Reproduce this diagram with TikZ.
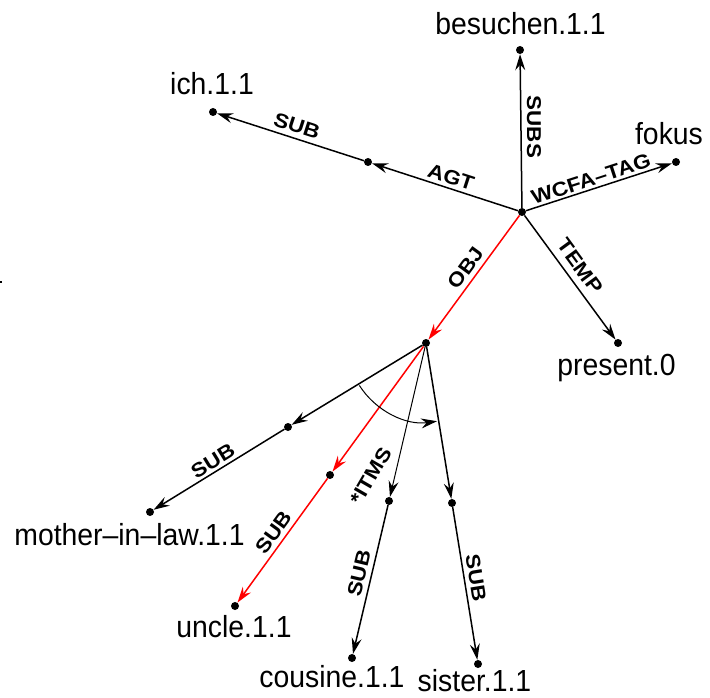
\documentclass[tikz,border=0pt]{standalone}
\usepackage{fontspec}
\setmainfont{Liberation Sans}
\newfontfamily\nodefont[FakeStretch=0.93]{Liberation Sans}
\newfontfamily\edgefont[FakeStretch=1.12]{Liberation Sans}
\usetikzlibrary{arrows.meta}
\tikzset{
  dot/.style={circle, fill=black, inner sep=0pt, minimum size=8pt},
  lbl/.style={font=\nodefont\fontsize{30.5}{30}\selectfont, anchor=base, inner sep=0pt},
  elab/.style={font=\edgefont\bfseries\fontsize{20}{20}\selectfont, inner sep=0pt},
  arr/.style={-{Stealth[length=16pt,width=10pt,inset=5.5pt]}, line width=1.5pt},
  redarr/.style={arr, red},
}
\begin{document}
\begin{tikzpicture}[x=1pt,y=-1pt]
\useasboundingbox[fill=white] (0,0) rectangle (710,698);
% dots
\node[dot] (C) at (522,212) {};
\node[dot] (besu) at (520,50) {};
\node[dot] (agt) at (368,162) {};
\node[dot] (ich) at (213,112) {};
\node[dot] (fok) at (676,162) {};
\node[dot] (pres) at (618,343) {};
\node[dot] (O) at (426,343) {};
\node[dot] (mm) at (288,427) {};
\node[dot] (mil) at (150,512) {};
\node[dot] (um) at (330,475) {};
\node[dot] (unc) at (235,606) {};
\node[dot] (cm) at (389,501) {};
\node[dot] (cou) at (352,658) {};
\node[dot] (sm) at (452,503) {};
\node[dot] (sis) at (478,664) {};
\fill (0,281) rectangle (2,283);
% texts
\node[lbl] (tbesu) at (520.5,35) {besuchen.1.1};
\node[lbl] (tich) at (212,95) {ich.1.1};
\node[lbl] (tfok) at (669,145) {fokus};
\node[lbl] (tpres) at (616.5,375) {present.0};
\node[lbl] (tmil) at (129.5,545) {mother–in–law.1.1};
\node[lbl] (tunc) at (234,637) {uncle.1.1};
\node[lbl] (tcou) at (332,687) {cousine.1.1};
\node[lbl] (tsis) at (474.5,691) {sister.1.1};
% edges
\draw[arr] (C) -- (besu);
\draw[arr] (C) -- (agt);
\draw[arr] (agt) -- (ich);
\draw[arr] (C) -- (fok);
\draw[arr] (C) -- (pres);
\draw[redarr] (C) -- (O);
\draw[arr] (O) -- (mm);
\draw[arr] (mm) -- (mil);
\draw[redarr] (O) -- (um);
\draw[redarr] (um) -- (unc);
\draw[arr, line width=1pt] (O) -- (cm);
\draw[arr] (cm) -- (cou);
\draw[arr] (O) -- (sm);
\draw[arr] (sm) -- (sis);
\draw[arr, line width=1pt] (O.center) ++(147.5:79) arc[start angle=147.5, end angle=82, radius=79];
% edge labels
\node[elab, rotate=-90] (lsubs) at (534,127) {SUBS};
\node[elab, rotate=-18] (lagt) at (451,177) {AGT};
\node[elab, rotate=-18] (lsub1) at (297,126) {SUB};
\node[elab, rotate=18] (lwcfa) at (591,179) {WCFA–TAG};
\node[elab, rotate=-53.8] (ltemp) at (580,266) {TEMP};
\node[elab, rotate=53.8] (lobj) at (466,268) {OBJ};
\node[elab, rotate=31.6] (lsub2) at (213,461) {SUB};
\node[elab, rotate=54] (lsub3) at (274,532) {SUB};
\node[elab, rotate=60] (litms) at (371,476) {*ITMS};
\node[elab, rotate=76.7] (lsub4) at (359,573) {SUB};
\node[elab, rotate=-80.8] (lsub5) at (476,578) {SUB};
\end{tikzpicture}
\end{document}
